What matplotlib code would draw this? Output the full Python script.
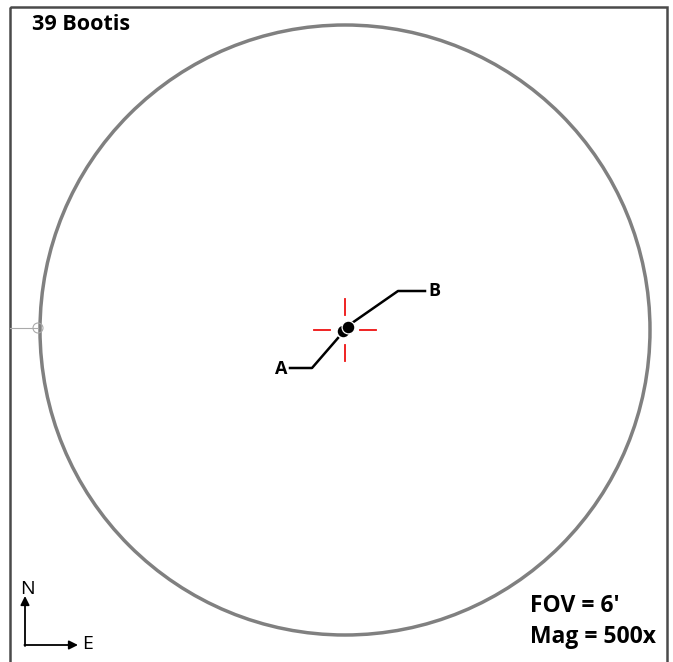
import numpy as np
import matplotlib.pyplot as plt
from matplotlib.patches import Circle, Rectangle

# field of view (pixel-ish chart units)
fov_center = (345, 330)
fov_radius = 305

# component stars (x, y)
star_x = [343, 348]
star_y = [331, 327]

# labels and leader lines
label_names = ['A', 'B']
leader_x = [[338, 312, 290], [352, 398, 425]]
leader_y = [[338, 368, 368], [323, 291, 291]]
label_x = [281, 434]
label_y = [369, 291]

title = '39 Bootis'
info = ["FOV = 6'", 'Mag = 500x']

fig = plt.figure(figsize=(6.73, 6.62), dpi=100)
ax = fig.add_axes([0, 0, 1, 1])
ax.set_xlim(0, 673)
ax.set_ylim(662, 0)
ax.axis('off')

# outer frame
ax.add_patch(Rectangle((10, 7), 657, 700, fill=False, ec='#4a4a4a', lw=1.8))

# FOV circle
ax.add_patch(Circle(fov_center, fov_radius, fill=False, ec='#808080', lw=2.5))

# small marker on the left
ax.plot([10, 38], [328, 328], color='#aaaaaa', lw=0.8)
ax.add_patch(Circle((38, 328), 5, fill=False, ec='#aaaaaa', lw=0.8))

# red crosshair
cx, cy = fov_center
gap, ln = 15, 16
for dx, dy in [(1, 0), (-1, 0), (0, 1), (0, -1)]:
    ax.plot([cx + dx*gap, cx + dx*(gap+ln)], [cy + dy*gap, cy + dy*(gap+ln)],
            color='#ee1111', lw=1.3)

# leader lines
for xs, ys in zip(leader_x, leader_y):
    ax.plot(xs, ys, color='black', lw=1.8)
for name, x, y in zip(label_names, label_x, label_y):
    ax.text(x, y, name, ha='center', va='center', fontsize=13,
            fontweight='bold', family='Open Sans')

# stars
ax.scatter(star_x, star_y, s=85, color='black', edgecolors='white',
           linewidths=0.9, zorder=5)

# title
ax.text(32, 24, title, ha='left', va='center', fontsize=15.5,
        fontweight='bold', family='Open Sans')

# info text
ax.text(530, 606, info[0], ha='left', va='center', fontsize=16.5,
        fontweight='bold', family='Open Sans')
ax.text(530, 637, info[1], ha='left', va='center', fontsize=16.5,
        fontweight='bold', family='Open Sans')

# compass
ax.annotate('', xy=(25, 596), xytext=(25, 646),
            arrowprops=dict(arrowstyle='-|>', color='black', lw=1.3,
                            shrinkA=0, shrinkB=0, mutation_scale=13))
ax.annotate('', xy=(78, 645), xytext=(24.4, 645),
            arrowprops=dict(arrowstyle='-|>', color='black', lw=1.3,
                            shrinkA=0, shrinkB=0, mutation_scale=13))
ax.text(27, 589, 'N', ha='center', va='center', fontsize=14, family='Open Sans')
ax.text(88, 644, 'E', ha='center', va='center', fontsize=14, family='Open Sans')

fig.savefig('out.png', dpi=100)
